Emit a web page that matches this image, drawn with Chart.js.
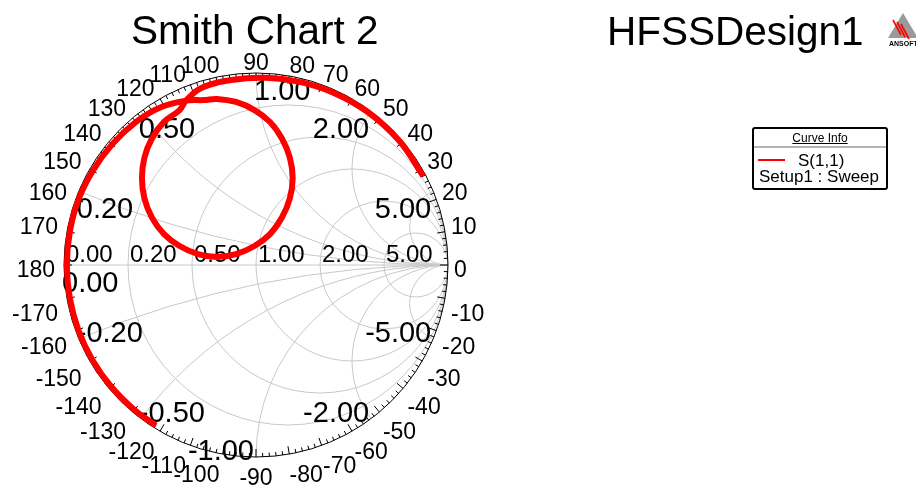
<!DOCTYPE html>
<html>
<head>
<meta charset="utf-8">
<title>Smith Chart 2</title>
<script src="https://cdn.jsdelivr.net/npm/chart.js@4"></script>
<style>
html,body{margin:0;padding:0;background:#fff;}
#wrap{position:relative;width:916px;height:488px;}
</style>
</head>
<body>
<div id="wrap"><canvas id="smith"></canvas></div>
<script>
// S(1,1) trace, reflection coefficient (re / im)
// starts bottom left on the rim, runs up the left rim, around the loop, then along the top rim
var s11Re = [-0.522,-0.633,-0.755,-0.853,-0.926,-0.970,-0.985,-0.970,-0.926,-0.850,-0.749,-0.625,-0.505,
  -0.365,-0.271,-0.203,-0.104,-0.008,0.073,0.135,0.176,0.191,0.176,0.135,0.073,-0.008,-0.104,-0.203,-0.302,
  -0.398,-0.479,-0.542,-0.581,-0.594,-0.581,-0.542,-0.479,-0.398,-0.365,
  -0.282,-0.118,0.051,0.220,0.400,0.580,0.745,0.871];
var s11Im = [-0.835,-0.755,-0.633,-0.493,-0.337,-0.171,0.000,0.171,0.337,0.491,0.629,0.745,0.818,
  0.856,0.859,0.865,0.849,0.807,0.745,0.659,0.560,0.453,0.346,0.247,0.161,0.099,0.057,0.042,0.057,
  0.099,0.161,0.247,0.346,0.453,0.560,0.659,0.745,0.807,0.856,
  0.923,0.965,0.975,0.955,0.899,0.798,0.648,0.463];

var rValues = [0, 0.2, 0.5, 1, 2, 5];
var xValues = [0, 0.2, 0.5, 1, 2, 5, -0.2, -0.5, -1, -2, -5];
var angleLabels = [0,10,20,30,40,50,60,70,80,90,100,110,120,130,140,150,160,170,180,
  -170,-160,-150,-140,-130,-120,-110,-100,-90,-80,-70,-60,-50,-40,-30,-20,-10];

var fontFam = "'Liberation Sans', Arial, sans-serif";
var gridColor = '#c8c8c8';

function gammaOfX(x){
  var d = x*x + 1;
  return {re: (x*x - 1)/d, im: 2*x/d};
}

var smithPlugin = {
  id: 'smith',
  beforeDatasetsDraw: function(chart){
    var ctx = chart.ctx;
    var sx = chart.scales.x, sy = chart.scales.y;
    var cx = sx.getPixelForValue(0), cy = sy.getPixelForValue(0);
    var R = sx.getPixelForValue(1) - cx;
    ctx.save();
    // grid inside the unit circle
    ctx.beginPath();
    ctx.arc(cx, cy, R, 0, Math.PI*2);
    ctx.clip();
    ctx.strokeStyle = gridColor;
    ctx.lineWidth = 1;
    rValues.forEach(function(r){
      if (r === 0) return;
      ctx.beginPath();
      ctx.arc(sx.getPixelForValue(r/(1+r)), cy, R/(1+r), 0, Math.PI*2);
      ctx.stroke();
    });
    xValues.forEach(function(x){
      if (x === 0) return;
      ctx.beginPath();
      ctx.arc(sx.getPixelForValue(1), sy.getPixelForValue(1/x), Math.abs(R/x), 0, Math.PI*2);
      ctx.stroke();
    });
    ctx.beginPath();
    ctx.moveTo(cx - R, cy);
    ctx.lineTo(cx + R, cy);
    ctx.stroke();
    ctx.restore();

    ctx.save();
    // outer rim and angle ticks
    ctx.strokeStyle = '#000';
    ctx.lineWidth = 1;
    ctx.beginPath();
    ctx.arc(cx, cy, R, 0, Math.PI*2);
    ctx.stroke();
    for (var a = 0; a < 360; a += 2){
      var len = (a % 10 === 0) ? 8 : 4;
      var t = a*Math.PI/180;
      ctx.beginPath();
      ctx.moveTo(cx + R*Math.cos(t), cy - R*Math.sin(t));
      ctx.lineTo(cx + (R-len)*Math.cos(t), cy - (R-len)*Math.sin(t));
      ctx.stroke();
    }

    // resistance labels along the real axis
    ctx.fillStyle = '#000';
    ctx.font = '24px ' + fontFam;
    ctx.textAlign = 'left';
    ctx.textBaseline = 'alphabetic';
    rValues.forEach(function(r){
      var g = (r - 1)/(r + 1);
      ctx.fillText(r.toFixed(2), sx.getPixelForValue(g) + 2, cy - 3);
    });

    // reactance labels at the rim
    ctx.font = '29px ' + fontFam;
    xValues.forEach(function(x){
      var g = gammaOfX(x);
      var px = sx.getPixelForValue(g.re), py = sy.getPixelForValue(g.im);
      var left, base;
      if (x >= 0){ left = g.re <= 0.001; base = py + 27; }
      else { left = g.re < -0.001; base = py + 3; }
      ctx.textAlign = left ? 'left' : 'right';
      ctx.fillText(x.toFixed(2), px - 2, base);
    });
    ctx.restore();
  },
  afterDraw: function(chart){
    var ctx = chart.ctx;
    var sx = chart.scales.x, sy = chart.scales.y;
    var cx = sx.getPixelForValue(0), cy = sy.getPixelForValue(0);
    var R = sx.getPixelForValue(1) - cx;
    ctx.save();
    ctx.fillStyle = '#000';

    // angle labels around the rim
    ctx.font = '23px ' + fontFam;
    var d0 = R + 7;
    angleLabels.forEach(function(a){
      var t = a*Math.PI/180;
      var c = Math.cos(t), n = Math.sin(t);
      var ax = cx + d0*c, ay = cy - d0*n + 2.5;
      if (c > 0.01) { ctx.textAlign = 'left'; ax -= 1; }
      else if (c < -0.01) { ctx.textAlign = 'right'; ax -= 2; }
      else ctx.textAlign = 'center';
      if (n > 0.01) { ctx.textBaseline = 'alphabetic'; ay += 1; }
      else if (n < -0.01) { ctx.textBaseline = 'top'; ay += 1; }
      else { ctx.textBaseline = 'middle'; ay += 3; }
      ctx.fillText(String(a), ax, ay);
    });

    // titles
    ctx.font = '40.5px ' + fontFam;
    ctx.textAlign = 'left';
    ctx.textBaseline = 'alphabetic';
    ctx.fillText('Smith Chart 2', 131, 44);
    ctx.fillText('HFSSDesign1', 607, 45);

    // small logo
    ctx.fillStyle = '#9a9a9a';
    ctx.beginPath();
    ctx.moveTo(903, 13);
    ctx.lineTo(918, 38);
    ctx.lineTo(888, 38);
    ctx.closePath();
    ctx.fill();
    ctx.strokeStyle = '#ff0000';
    ctx.lineWidth = 1.6;
    [[897, 22], [901, 24], [905, 26]].forEach(function(p){
      ctx.beginPath();
      ctx.moveTo(p[0] - 4, p[1] - 2);
      ctx.lineTo(p[0] + 4, p[1] + 13);
      ctx.stroke();
    });
    ctx.fillStyle = '#000';
    ctx.font = 'bold 7px ' + fontFam;
    ctx.fillText('ANSOFT', 889, 46);

    // curve info box
    ctx.strokeStyle = '#000';
    ctx.lineWidth = 2;
    ctx.beginPath();
    ctx.roundRect(753, 128, 134, 61, 2);
    ctx.stroke();
    ctx.strokeStyle = '#b4b4b4';
    ctx.lineWidth = 2;
    ctx.beginPath();
    ctx.moveTo(754, 147);
    ctx.lineTo(886, 147);
    ctx.stroke();
    ctx.font = '12px ' + fontFam;
    ctx.textAlign = 'center';
    ctx.fillText('Curve Info', 820, 142);
    var tw = ctx.measureText('Curve Info').width;
    ctx.strokeStyle = '#000';
    ctx.lineWidth = 1;
    ctx.beginPath();
    ctx.moveTo(820 - tw/2, 143.5);
    ctx.lineTo(820 + tw/2, 143.5);
    ctx.stroke();
    ctx.strokeStyle = '#ff0000';
    ctx.lineWidth = 2;
    ctx.beginPath();
    ctx.moveTo(758, 160);
    ctx.lineTo(785, 160);
    ctx.stroke();
    ctx.font = '17px ' + fontFam;
    ctx.textAlign = 'left';
    ctx.fillText('S(1,1)', 798, 166);
    ctx.fillText('Setup1 : Sweep', 759, 182);
    ctx.restore();
  }
};

var ctxSmith = document.getElementById('smith').getContext('2d');
var smithChart = new Chart(ctxSmith, {
  type: 'scatter',
  data: {
    datasets: [{
      label: 'S(1,1)',
      data: s11Re.map(function(r, i){ return {x: r, y: s11Im[i]}; }),
      showLine: true,
      borderColor: '#ff0000',
      backgroundColor: '#ff0000',
      borderWidth: 6,
      pointRadius: 0,
      tension: 0.4,
      clip: false
    }]
  },
  options: {
    responsive: true,
    maintainAspectRatio: false,
    animation: false,
    layout: {padding: {left: 64, right: 468, top: 73, bottom: 31}},
    scales: {
      x: {type: 'linear', min: -1, max: 1, display: false},
      y: {type: 'linear', min: -1, max: 1, display: false}
    },
    plugins: {
      legend: {display: false},
      tooltip: {enabled: false}
    }
  },
  plugins: [smithPlugin]
});
</script>
</body>
</html>
